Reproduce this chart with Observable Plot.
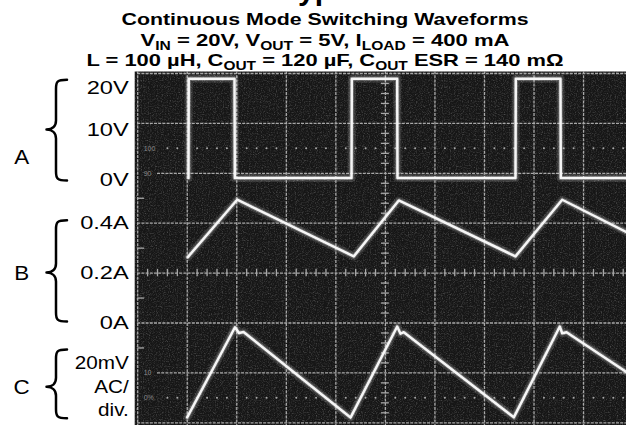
<!DOCTYPE html>
<html>
<head>
<meta charset="utf-8">
<script src="https://cdn.jsdelivr.net/npm/d3@7"></script>
<script src="https://cdn.jsdelivr.net/npm/@observablehq/plot@0.6"></script>
<style>
  html, body { margin: 0; padding: 0; background: #fff; }
  #wrap { position: relative; width: 626px; height: 425px; overflow: hidden; background: #fff; }
  #title { position: absolute; left: 0; top: 0; z-index: 2; }
  #chart { position: absolute; left: 0; top: 71px; z-index: 1; }
</style>
</head>
<body>
<div id="wrap">
  <div id="chart"></div>
  <svg id="title" width="626" height="76" font-family="Liberation Sans, Arial, Helvetica, sans-serif" font-weight="bold" fill="#000">
    <text x="282" y="0" font-size="30">Typical Performance Characteristics</text>
    <text x="325" y="25" text-anchor="middle" font-size="17" textLength="407" lengthAdjust="spacingAndGlyphs">Continuous Mode Switching Waveforms</text>
    <text x="325" y="45.5" text-anchor="middle" font-size="17" textLength="369" lengthAdjust="spacingAndGlyphs">V<tspan font-size="12" dy="4">IN</tspan><tspan dy="-4"> = 20V, V</tspan><tspan font-size="12" dy="4">OUT</tspan><tspan dy="-4"> = 5V, I</tspan><tspan font-size="12" dy="4">LOAD</tspan><tspan dy="-4"> = 400 mA</tspan></text>
    <text x="325" y="66" text-anchor="middle" font-size="17" textLength="477" lengthAdjust="spacingAndGlyphs">L = 100 µH, C<tspan font-size="12" dy="3.5">OUT</tspan><tspan dy="-3.5"> = 120 µF, C</tspan><tspan font-size="12" dy="3.5">OUT</tspan><tspan dy="-3.5"> ESR = 140 mΩ</tspan></text>
  </svg>
</div>
<script>
// ---- Data (time in graticule divisions from the left edge) ----
// Channel A: switch node voltage (V)
const aTime  = [1.025, 1.03, 1.954, 1.96, 4.316, 4.322, 5.238, 5.244, 7.626, 7.632, 8.534, 8.54, 9.87];
const aVolts = [0, 19.9, 19.9, 0, 0, 19.9, 19.9, 0, 0, 19.9, 19.9, 0, 0];
// Channel B: inductor current (A)
const bTime = [1.011, 2.008, 4.362, 5.270, 7.626, 8.569, 9.87];
const bAmps = [0.264, 0.494, 0.267, 0.491, 0.267, 0.494, 0.364];
// Channel C: output ripple (mV, AC coupled)
const cTime = [0.999, 1.964, 2.045, 2.136, 4.296, 5.238, 5.305, 5.371, 7.592, 8.520, 8.569, 8.656, 9.87];
const cMillivolts = [-17.8, 18.3, 16.0, 16.4, -17.9, 18.6, 15.7, 16.3, -17.8, 18.6, 15.9, 16.3, 0.3];

// Tick labels
const aTickValues = [20, 10, 0];
const aTickLabels = ["20V", "10V", "0V"];
const bTickValues = [0.4, 0.2, 0];
const bTickLabels = ["0.4A", "0.2A", "0A"];
const cScaleLabel = ["20mV\nAC/\ndiv."];
const channelNames = ["A", "B", "C"];
const graticuleMarks = ["100", "90", "10", "0%"];
const graticuleMarkLevels = [2.5, 2, -2, -2.5];

// Scope settings: volts/div and ground position (divisions from centre)
const aPerDiv = 10,  aZero = 1.906;
const bPerDiv = 0.2, bZero = -1;
const cPerDiv = 20,  cZero = -2;

// ---- Geometry ----
const divPx = 49.54, divPy = 49.9;
const mLeft = 137.2, mTop = 2, W = 626, H = 354;
const xMax = (W - mLeft) / divPx;
const yMin = 4 - (H - mTop) / divPy;

const aData = aTime.map((t, i) => ({t, y: aZero + aVolts[i] / aPerDiv}));
const bData = bTime.map((t, i) => ({t, y: bZero + bAmps[i] / bPerDiv}));
const cData = cTime.map((t, i) => ({t, y: cZero + cMillivolts[i] / cPerDiv}));
const aTicks = aTickValues.map((v, i) => ({y: aZero + v / aPerDiv, label: aTickLabels[i]}));
const bTicks = bTickValues.map((v, i) => ({y: bZero + v / bPerDiv, label: bTickLabels[i]}));

// graticule helpers
const majorX = d3.range(0, 10);
const minorX = d3.range(0, 50).map(k => k / 5).filter(v => v % 1 !== 0 && v <= xMax);
const minorY = d3.range(-15, 21).map(k => k / 5).filter(v => Math.abs(v % 1) > 1e-9);
const dotted = [];
for (const lvl of [2.5, -2.5]) for (const x of minorX) if (x > 0.4) dotted.push({x, y: lvl});

const gridColor = "#a8a8a8";
const traceColor = "#f6f6f6";
const traceMarks = (data) => [
  Plot.line(data, {x: "t", y: "y", stroke: "#ffffff", strokeWidth: 8, strokeOpacity: 0.13, strokeLinejoin: "round", strokeLinecap: "round"}),
  Plot.line(data, {x: "t", y: "y", stroke: "#ffffff", strokeWidth: 4.5, strokeOpacity: 0.22, strokeLinejoin: "round", strokeLinecap: "round"}),
  Plot.line(data, {x: "t", y: "y", stroke: traceColor, strokeWidth: 2.5, strokeLinejoin: "round", strokeLinecap: "round"})
];
const labelFont = 17.5;

const plot = Plot.plot({
  width: W, height: H,
  marginLeft: mLeft, marginRight: 0, marginTop: mTop, marginBottom: 0,
  x: {domain: [0, xMax], axis: null},
  y: {domain: [yMin, 4], axis: null},
  style: {background: "transparent", fontFamily: "Liberation Sans, Arial, Helvetica, sans-serif", overflow: "visible"},
  marks: [
    Plot.frame({fill: "#161616", stroke: "none", insetLeft: -3, insetTop: -2}),
    // graticule
    Plot.ruleX(majorX, {stroke: gridColor, strokeWidth: 1.3, strokeDasharray: "3,1.2", insetTop: -2}),
    Plot.ruleY([4, 3, 1, 0, -1, -3], {stroke: gridColor, strokeWidth: 1.3, strokeDasharray: "3,1.2"}),
    Plot.ruleY([2, -2], {x1: 0.4, x2: xMax, stroke: gridColor, strokeWidth: 1.3, strokeDasharray: "3,1.2"}),
    Plot.ruleX(minorX, {y1: -0.075, y2: 0.075, stroke: gridColor, strokeWidth: 1.3}),
    Plot.ruleY(minorY, {x1: 5 - 0.08, x2: 5 + 0.08, stroke: gridColor, strokeWidth: 1.3}),
    Plot.ruleY([1.5, 0.5, -0.5, -1.5], {x1: 0, x2: 0.14, stroke: gridColor, strokeWidth: 1.3}),
    Plot.dot(dotted, {x: "x", y: "y", r: 1, fill: gridColor, stroke: "none"}),
    Plot.text(graticuleMarks, {y: (d, i) => graticuleMarkLevels[i], text: d => d, frameAnchor: "left", dx: 6, textAnchor: "start", fontSize: 7, fill: "#8a8a8a"}),
    // traces
    ...traceMarks(aData),
    ...traceMarks(bData),
    ...traceMarks(cData),
    // left labels
    Plot.text(aTicks.filter(d => d.label === "20V"), {y: "y", text: "label", frameAnchor: "left", dx: -9, dy: 10, textAnchor: "end", fontSize: labelFont, fill: "#000"}),
    Plot.text(aTicks.filter(d => d.label !== "20V"), {y: "y", text: "label", frameAnchor: "left", dx: -9, dy: 2, textAnchor: "end", fontSize: labelFont, fill: "#000"}),
    Plot.text(bTicks, {y: "y", text: "label", frameAnchor: "left", dx: -9, dy: 0, textAnchor: "end", fontSize: labelFont, fill: "#000"}),
    Plot.text(cScaleLabel, {y: -2.25, text: d => d, frameAnchor: "left", dx: -9, textAnchor: "end", lineHeight: 1.31, fontSize: 18, fill: "#000"}),
    Plot.text([channelNames[0]], {y: aZero + 0.41, text: d => d, frameAnchor: "left", dx: -116, textAnchor: "middle", fontSize: 20, fill: "#000"}),
    Plot.text([channelNames[1]], {y: bZero + 0.2 / bPerDiv, text: d => d, frameAnchor: "left", dx: -116, textAnchor: "middle", fontSize: 20, fill: "#000"}),
    Plot.text([channelNames[2]], {y: -2.29, text: d => d, frameAnchor: "left", dx: -116, textAnchor: "middle", fontSize: 20, fill: "#000"})
  ]
});

document.getElementById("chart").appendChild(plot);

// Subtle photographic noise on the scope screen (drawn just above the screen fill)
const svg = d3.select(plot);
const defs = svg.insert("defs", ":first-child");
const f = defs.append("filter").attr("id", "scopeNoise").attr("x", 0).attr("y", 0).attr("width", 1).attr("height", 1);
f.append("feTurbulence").attr("type", "fractalNoise").attr("baseFrequency", 0.85).attr("numOctaves", 2).attr("seed", 3).attr("result", "n");
f.append("feColorMatrix").attr("in", "n").attr("type", "matrix")
  .attr("values", "0 0 0 0 1  0 0 0 0 1  0 0 0 0 1  0.55 0.55 0.55 0 -0.78");
const frameEl = svg.select('[aria-label="frame"]').node();
if (frameEl) {
  const bb = frameEl.getBBox();
  const noise = document.createElementNS("http://www.w3.org/2000/svg", "rect");
  noise.setAttribute("x", bb.x); noise.setAttribute("y", bb.y);
  noise.setAttribute("width", bb.width); noise.setAttribute("height", bb.height);
  noise.setAttribute("filter", "url(#scopeNoise)");
  noise.setAttribute("opacity", "0.5");
  frameEl.parentNode.insertBefore(noise, frameEl.nextSibling);
}

// Stretch label glyphs horizontally (as in the original scan)
const stretchFor = t => channelNames.includes(t) ? 1.12
  : t.startsWith("20mV") ? 1.15
  : /^[0-9.]+[VA]$/.test(t) ? 1.35 : 1;
svg.selectAll('g[aria-label="text"] text').each(function () {
  const s = stretchFor(this.textContent);
  if (s !== 1) {
    const tr = this.getAttribute("transform") || "";
    this.setAttribute("transform", tr + ` scale(${s},1)`);
  }
});

// Curly braces grouping each channel's labels, positioned by the y scale
const ys = plot.scale("y");
function brace(yt, ym, yb) {
  const xe = 67, xs = 56, xt = 46.5, r = 9;
  return `M${xe},${yt} C${xs + 1},${yt} ${xs},${yt + 2} ${xs},${yt + r} ` +
         `L${xs},${ym - r} C${xs},${ym - 3} ${xs - 4},${ym} ${xt},${ym} ` +
         `C${xs - 4},${ym} ${xs},${ym + 3} ${xs},${ym + r} ` +
         `L${xs},${yb - r} C${xs},${yb - 2} ${xs + 1},${yb} ${xe},${yb}`;
}
const braces = [
  [ys.apply(aZero + 2) + 2, ys.apply(aZero + 1) + 2, ys.apply(aZero) + 3],
  [ys.apply(bZero + 0.4 / bPerDiv) - 2.5, ys.apply(bZero + 0.2 / bPerDiv), ys.apply(bZero) - 1],
  [ys.apply(-1.54), ys.apply(-2.29), ys.apply(-2.92)]
];
svg.append("g").selectAll("path").data(braces).join("path")
  .attr("d", d => brace(...d))
  .attr("fill", "none").attr("stroke", "#000").attr("stroke-width", 2.5)
  .attr("stroke-linecap", "round").attr("stroke-linejoin", "round");
</script>
</body>
</html>
